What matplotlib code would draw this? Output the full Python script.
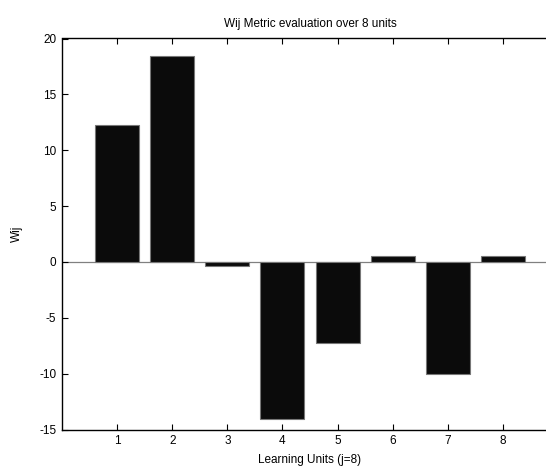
import numpy as np
import matplotlib
matplotlib.use("Agg")
import matplotlib.pyplot as plt

## -- data
units = [1, 2, 3, 4, 5, 6, 7, 8]
wij = [12.3, 18.4, -0.4, -14.1, -7.25, 0.5, -10.0, 0.55]
yticks = [-15, -10, -5, 0, 5, 10, 15, 20]

plt.rcParams['font.family'] = ['Liberation Sans', 'DejaVu Sans']
plt.rcParams['font.size'] = 8.5
plt.rcParams['axes.unicode_minus'] = False

fig = plt.figure(figsize=(5.46, 4.68), dpi=100)
# axes runs off the right edge like in the original (cropped matlab figure)
ax = fig.add_axes([62/546, 38.5/468, 496/546, 391/468])

ax.bar(units, wij, width=0.8, color='#0b0b0b', edgecolor='#777777', linewidth=0.8, zorder=2)
ax.axhline(0, color='#808080', linewidth=0.9, zorder=1)

ax.set_xlim(0, 9)
ax.set_ylim(-15, 20)
ax.set_xticks(units)
ax.set_yticks(yticks)
ax.tick_params(direction='in', top=True, right=True, length=4, width=0.8, pad=4)
for s in ax.spines.values():
    s.set_linewidth(1.0)

ax.set_title("Wij Metric evaluation over 8 units", fontsize=8.5, pad=8)
ax.set_xlabel("Learning Units (j=8)", labelpad=5)
ax.set_ylabel("Wij", labelpad=12)

fig.savefig("out.png", dpi=100)
